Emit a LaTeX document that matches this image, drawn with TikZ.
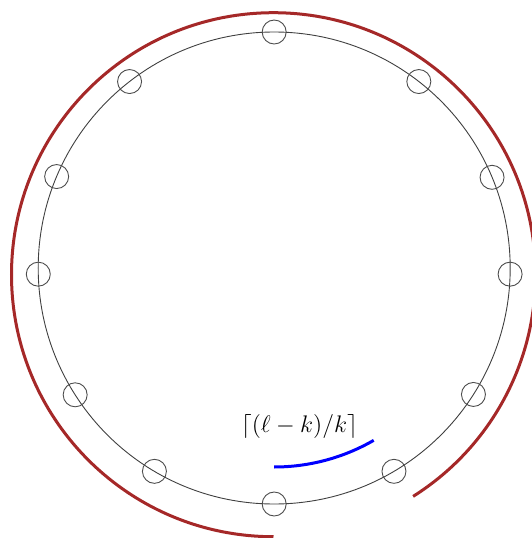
\documentclass[tikz,border=0pt]{standalone}
\usetikzlibrary{calc}
\definecolor{arcred}{RGB}{165,40,40}
\begin{document}
\begin{tikzpicture}[x=0.5pt,y=0.5pt,
  ring/.style={draw=black!75,line width=0.45pt},
  dot/.style={circle,draw=black!70,line width=0.45pt,minimum size=12pt,inner sep=0pt},
  redarc/.style={draw=arcred,line width=1.5pt},
  bluearc/.style={draw=blue,line width=1.5pt},
  lbl/.style={font=\fontsize{13.2}{16}\selectfont}]
\useasboundingbox (0,0) rectangle (532,538);
\clip (0,0) rectangle (532,538);
\coordinate (O) at (274.2,270);
\coordinate (R) at (273.5,263.3);
\draw[ring] (O) circle[radius=236];
\foreach \a [count=\i] in {90,52.2,22.6,-1.5,-32.4,-59.5,-90,-120.5,-147.5,-178.5,157.2,127.8}{
  \node[dot] (n\i) at ($(O)+(\a:236)$) {};
}
\coordinate (rs) at ($(R)+(270:262)$);
\draw[redarc] (rs) arc[start angle=270,end angle=-57.8,radius=262];
\coordinate (bs) at ($(O)+(-90:199)$);
\draw[bluearc] (bs) arc[start angle=-90,end angle=-60,radius=199];
\node[lbl] (lab) at (299.5,111) {$\lceil(\ell-k)/k\rceil$};
\end{tikzpicture}
\end{document}
